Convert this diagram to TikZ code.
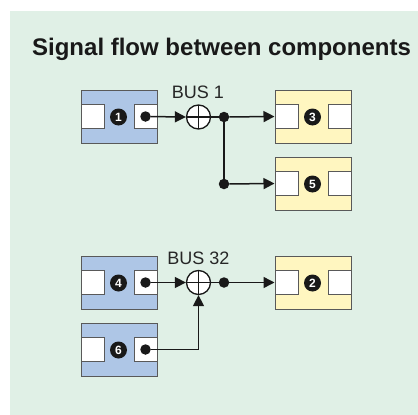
\documentclass[tikz,border=0pt]{standalone}
\usepackage{fontspec}
\setmainfont{Liberation Sans}
\usetikzlibrary{positioning, arrows.meta, calc}
\definecolor{panel_green}{RGB}{224,240,230}
\definecolor{src_blue}{RGB}{174,198,230}
\definecolor{dst_yellow}{RGB}{255,246,192}
\colorlet{edge_gray}{black!65}

\begin{document}
\begin{tikzpicture}[
    x=1pt, y=-1pt,
    >={Triangle[length=11pt, width=11pt]},
    comp/.style={draw=edge_gray, line width=1pt, fill=#1, minimum width=76pt, minimum height=53pt, inner sep=0pt},
    port/.style={draw=edge_gray, line width=1pt, fill=white, minimum width=23pt, minimum height=24pt, inner sep=0pt},
    badge/.style={circle, fill=black!90, text=white, font=\bfseries\fontsize{12}{12}\selectfont, minimum size=17pt, inner sep=0pt},
    jdot/.style={circle, fill=black!90, minimum size=10.5pt, inner sep=0pt},
    sumjoint/.style={circle, draw=black!90, fill=white, line width=1.3pt, minimum size=24pt, inner sep=0pt,
        path picture={
            \draw[black!90, line width=1.3pt] (path picture bounding box.north) -- (path picture bounding box.south)
                (path picture bounding box.west) -- (path picture bounding box.east);
        }},
    wire/.style={line width=1.5pt, draw=black!90},
    buslabel/.style={anchor=base, font=\fontsize{18}{18}\selectfont, text=black!85}
]

%% --- background panel ---
\useasboundingbox (0,0) rectangle (418,415);
\fill[panel_green] (10,11) rectangle (418,415);
\node[anchor=base, font=\bfseries\fontsize{24}{24}\selectfont, text=black!90] (title) at (221.5,55.5) {Signal flow between components};

%% --- components ---
\foreach \n/\x/\y/\c in {c1/119/116.5/src_blue, c4/119/282.5/src_blue, c6/119/349.5/src_blue,
                         c3/313/116.5/dst_yellow, c5/313/183.5/dst_yellow, c2/313/282.5/dst_yellow} {
    \node[comp=\c] (\n) at (\x,\y) {};
    \node[port, anchor=west] (\n l) at (\n.west) {};
    \node[port, anchor=east] (\n r) at (\n.east) {};
}
\foreach \n/\k in {c1/1, c4/4, c6/6, c3/3, c5/5, c2/2} {
    \node[badge] (\n b) at ($(\n.center)+(-0.5,0.5)$) {\k};
}
\foreach \n in {c1, c4, c6} {
    \node[jdot] (\n d) at (\n r.center) {};
}

%% --- buses ---
\node[sumjoint] (s1) at (198.5,117) {};
\node[buslabel] (bus1) at (198,98.5) {BUS 1};
\node[jdot] (j1) at (224,117) {};
\node[jdot] (j1b) at (224,184) {};

\node[sumjoint] (s2) at (198.5,282.5) {};
\node[buslabel] (bus32) at (198.5,264.5) {BUS 32};
\node[jdot] (j2) at (224,282.5) {};

%% --- wires ---
\draw[wire, ->] (c1d) -- (s1.west);
\draw[wire] (s1.east) -- (j1);
\draw[wire, ->] (j1) -- (c3.west);
\draw[wire] (j1) -- (j1b);
\draw[wire, ->] (j1b) -- (c5.west);

\draw[wire, ->] (c4d) -- (s2.west);
\draw[wire, ->] (c6d) -| (s2.south);
\draw[wire] (s2.east) -- (j2);
\draw[wire, ->] (j2) -- (c2.west);

\end{tikzpicture}
\end{document}
